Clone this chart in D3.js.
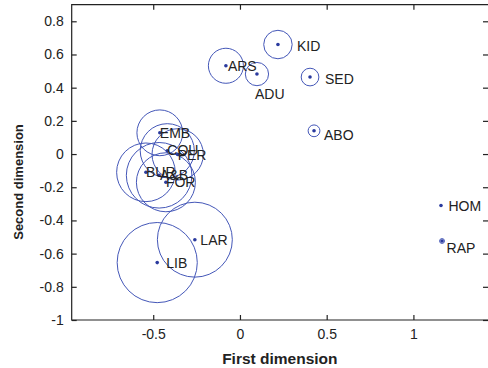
<!DOCTYPE html>
<meta charset="utf-8">
<head>
  <title>Crimes, two dimensions</title>
</head>
<style>
  body { margin: 0; background: #fff; }
  svg { display: block; font-family: "Liberation Sans", Arial, Helvetica, sans-serif; }
  .axis path, .axis line { stroke: #222; stroke-width: 1.2; }
  .axis text { font-size: 14px; fill: #222; }
  .lbl { font-size: 14px; fill: #222; }
  .title { font-size: 15.5px; font-weight: bold; fill: #222; }
</style>
<body>
<svg width="488" height="368"></svg>
<script src="https://cdnjs.cloudflare.com/ajax/libs/d3/7.8.5/d3.min.js"></script>
<script>

// crime labels and their coordinates in the two dimensions
var names  = ["KID", "ARS", "ADU", "SED", "ABO", "EMB", "COU", "PER", "BUR", "A&B", "FOR", "LAR", "LIB", "HOM", "RAP"];
var dim1   = [0.219, -0.081, 0.098, 0.404, 0.427, -0.462, -0.419, -0.359, -0.542, -0.466, -0.427, -0.260, -0.477, 1.159, 1.165];
var dim2   = [0.660, 0.532, 0.482, 0.464, 0.140, 0.128, 0.020, -0.002, -0.110, -0.128, -0.170, -0.516, -0.654, -0.310, -0.524];
// size of the circle drawn round each point (units of first dimension)
var spread = [0.082, 0.101, 0.067, 0.051, 0.034, 0.132, 0.156, 0.148, 0.169, 0.189, 0.170, 0.216, 0.231, 0.0, 0.014];

var xTicks = [-0.5, 0, 0.5, 1];
var yTicks = [-1, -0.8, -0.6, -0.4, -0.2, 0, 0.2, 0.4, 0.6, 0.8];

// where each label sits relative to its point (px)
var labelOffset = {
  KID: [19, 6], ARS: [2, 5], ADU: [-2, 25], SED: [15, 6.5], ABO: [10, 9.5],
  EMB: [0, 5.5], COU: [0, 4.7], PER: [0, 5.7], BUR: [0, 4.5], "A&B": [1, 5],
  FOR: [0, 4.5], LAR: [5.5, 5], LIB: [9, 5.5], HOM: [7.5, 5.5], RAP: [4.5, 12]
};

var pts = names.map(function(n, i) {
  return { name: n, x: dim1[i], y: dim2[i], r: spread[i] };
});

var svg = d3.select("svg");
var pLeft = 71.7, pRight = 488, pTop = 4.7, pBottom = 320;

var x = d3.scaleLinear().domain([-0.97, 1.43]).range([pLeft, pRight]);
var y = d3.scaleLinear().domain([-1, 0.9]).range([pBottom, pTop]);

function fmt(d) { return String(d); }

// frame with inward ticks on all four sides (right edge falls just off the picture)
svg.append("path")
  .attr("d", "M" + (pRight + 2) + "," + pTop + "H" + pLeft + "V" + pBottom + "H" + (pRight + 2))
  .attr("fill", "none").attr("stroke", "#222").attr("stroke-width", 1.2);

svg.append("g").attr("class", "axis")
  .attr("transform", "translate(0," + pBottom + ")")
  .call(d3.axisBottom(x).tickValues(xTicks).tickFormat(fmt).tickSizeInner(-5).tickSizeOuter(0).tickPadding(9));

svg.append("g").attr("class", "axis")
  .attr("transform", "translate(0," + pTop + ")")
  .call(d3.axisTop(x).tickValues(xTicks).tickFormat("").tickSizeInner(-5).tickSizeOuter(0));

svg.append("g").attr("class", "axis")
  .attr("transform", "translate(" + pLeft + ",0)")
  .call(d3.axisLeft(y).tickValues(yTicks).tickFormat(fmt).tickSizeInner(-5).tickSizeOuter(0).tickPadding(8));

svg.append("g").attr("class", "axis")
  .attr("transform", "translate(" + pRight + ",0)")
  .call(d3.axisRight(y).tickValues(yTicks).tickFormat("").tickSizeInner(-5).tickSizeOuter(0));

svg.selectAll(".axis .domain").remove();

var unit = x(1) - x(0);

svg.append("g").selectAll("circle")
  .data(pts.filter(function(d) { return d.r > 0; }))
  .enter().append("circle")
  .attr("cx", function(d) { return x(d.x); })
  .attr("cy", function(d) { return y(d.y); })
  .attr("r", function(d) { return d.r * unit; })
  .attr("fill", "none")
  .attr("stroke", "#4457b8")
  .attr("stroke-width", 1);

svg.append("g").selectAll("circle")
  .data(pts)
  .enter().append("circle")
  .attr("cx", function(d) { return x(d.x); })
  .attr("cy", function(d) { return y(d.y); })
  .attr("r", 1.8)
  .attr("fill", "#2a3a9e");

svg.append("g").selectAll("text")
  .data(pts)
  .enter().append("text")
  .attr("class", "lbl")
  .attr("x", function(d) { return x(d.x) + labelOffset[d.name][0]; })
  .attr("y", function(d) { return y(d.y) + labelOffset[d.name][1]; })
  .text(function(d) { return d.name; });

svg.append("text").attr("class", "title")
  .attr("x", (pLeft + pRight) / 2).attr("y", 364)
  .attr("text-anchor", "middle")
  .text("First dimension");

svg.append("text").attr("class", "title")
  .attr("transform", "translate(23,182) rotate(-90)")
  .attr("text-anchor", "middle")
  .style("font-size", "13px")
  .text("Second dimension");

</script>
</body>
</html>
